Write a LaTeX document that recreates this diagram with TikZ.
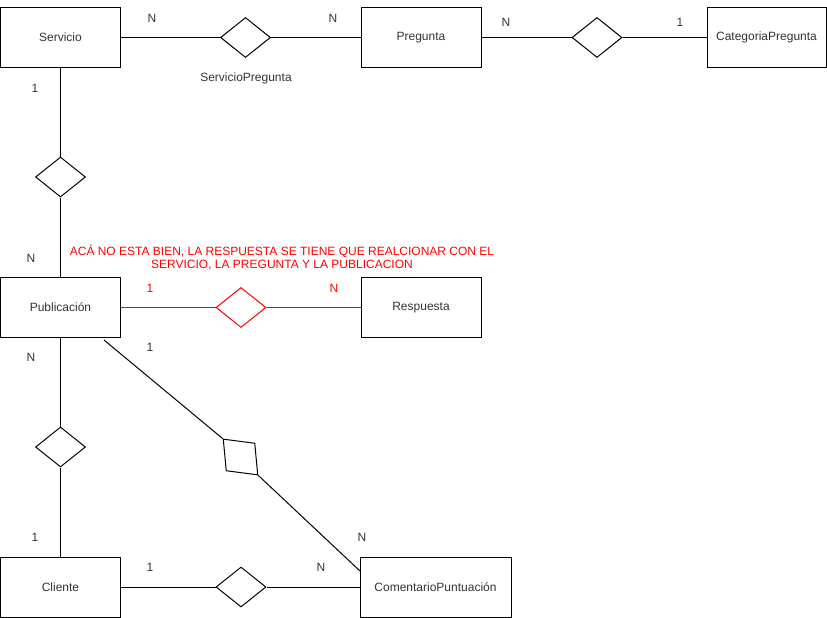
\documentclass[tikz,border=0pt]{standalone}
\usepackage{fontspec}
\setmainfont{Liberation Sans}
\usetikzlibrary{shapes.geometric}
\definecolor{txt}{HTML}{333333}
\definecolor{warn}{HTML}{FF0000}
\begin{document}
\begin{tikzpicture}[x=1pt,y=-1pt,
  every node/.style={font=\fontsize{12}{13.5}\selectfont, text=txt},
  entity/.style={draw=black, line width=1pt, rectangle, minimum width=120pt, minimum height=60pt, inner sep=0pt},
  rel/.style={draw=black, line width=1pt, diamond, minimum width=50pt, minimum height=40pt, inner sep=0pt},
  conn/.style={draw=black, line width=1pt},
  card/.style={inner sep=0pt}]
\useasboundingbox (0,0) rectangle (827,618);

% entities
\node[entity] (serv) at (60.5,37.5) {Servicio};
\node[entity] (preg) at (421,37.5) {Pregunta};
\node[entity, minimum width=119pt] (cat) at (766.5,37.5) {CategoriaPregunta};
\node[entity] (pub) at (60.5,307.5) {Publicación};
\node[entity] (resp) at (421,307.5) {Respuesta};
\node[entity] (cli) at (60.5,587) {Cliente};
\node[entity, minimum width=151pt] (com) at (435.5,587) {ComentarioPuntuación};

% relationships
\node[rel] (r1) at (245.5,37.5) {};
\node[rel] (r2) at (597,37.5) {};
\node[rel] (r3) at (60.5,177) {};
\node[rel, draw=warn] (r4) at (241,307.5) {};
\node[rel] (r5) at (60.5,447) {};
\node[rel] (r6) at (241,587) {};
\node[rel, rotate=-46] (r7) at (240.5,457) {};

% connectors
\draw[conn] (serv.east) -- (r1.west);
\draw[conn] (r1.east) -- (preg.west);
\draw[conn] (preg.east) -- (r2.west);
\draw[conn] (r2.east) -- (cat.west);
\draw[conn] (serv.south) -- (r3.north);
\draw[conn] (r3.south) -- (pub.north);
\draw[conn, draw=warn] (pub.east) -- (r4.west);
\draw[conn, draw=warn] (r4.east) -- (resp.west);
\draw[conn] (pub.south) -- (r5.north);
\draw[conn] (r5.south) -- (cli.north);
\draw[conn] (cli.east) -- (r6.west);
\draw[conn] (r6.east) -- (com.west);
\coordinate (pubd) at (104,340);
\coordinate (comd) at (360,571);
\draw[conn] (pubd) -- (r7.west);
\draw[conn] (r7.east) -- (comd);

% cardinalities
\node[card] (c1) at (152,18) {N};
\node[card] (c2) at (333,18) {N};
\node[card] (lbl) at (246,78) {ServicioPregunta};
\node[card] (c3) at (506,22) {N};
\node[card] (c4) at (680,22) {1};
\node[card] (c5) at (35,88) {1};
\node[card] (c6) at (31,258) {N};
\node[card, text=warn] (c7) at (150,288) {1};
\node[card, text=warn] (c8) at (334,288) {N};
\node[card] (c9) at (31,357) {N};
\node[card] (c10) at (35,537) {1};
\node[card] (c11) at (150,347) {1};
\node[card] (c12) at (362,537) {N};
\node[card] (c13) at (150,567) {1};
\node[card] (c14) at (321,567) {N};

% note
\node[card, text=warn, align=center] (note) at (282,257.5) {ACÁ NO ESTA BIEN, LA RESPUESTA SE TIENE QUE REALCIONAR CON EL\\SERVICIO, LA PREGUNTA Y LA PUBLICACION};
\end{tikzpicture}
\end{document}
